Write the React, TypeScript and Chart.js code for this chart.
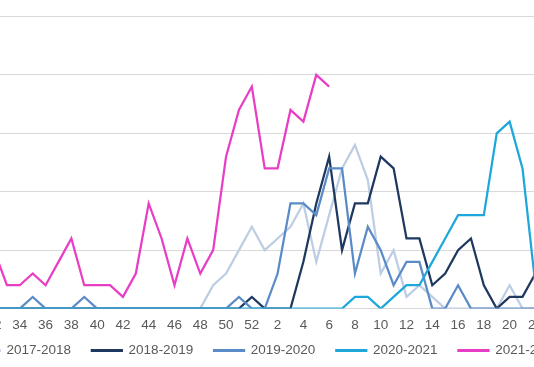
import { useEffect, useRef } from "react";
import { Chart, registerables } from "chart.js";

Chart.register(...registerables);

// Week categories (off-screen weeks at both ends carry no data)
const weekLabels = [
  "28", "29", "30", "31", "32", "33", "34", "35", "36", "37", "38", "39", "40", "41", "42", "43",
  "44", "45", "46", "47", "48", "49", "50", "51", "52", "1", "2", "3", "4", "5", "6", "7", "8",
  "9", "10", "11", "12", "13", "14", "15", "16", "17", "18", "19", "20", "21", "22", "23", "24",
  "25", "26",
];

const edge = [null, null, null, null];

// values for weeks 32..52, 1..22
const season1718 = [
  0, 0, 0, 0, 0, 0, 0, 0, 0, 0, 0, 0, 0, 0, 0, 0, 0, 2, 3, 5, 7,
  5, 6, 7, 9, 4, 8, 12, 14, 11, 3, 5, 1, 2, 1, 0, 0, 0, 0, 0, 2, 0, 0,
];
const season1819 = [
  0, 0, 0, 0, 0, 0, 0, 0, 0, 0, 0, 0, 0, 0, 0, 0, 0, 0, 0, 0, 1,
  0, 0, 0, 4, 9, 13, 5, 9, 9, 13, 12, 6, 6, 2, 3, 5, 6, 2, 0, 1, 1, 3,
];
const season1920 = [
  0, 0, 0, 1, 0, 0, 0, 1, 0, 0, 0, 0, 0, 0, 0, 0, 0, 0, 0, 1, 0,
  0, 3, 9, 9, 8, 12, 12, 3, 7, 5, 2, 4, 4, 0, 0, 2, 0, 0, 0, 0, 0, 0,
];
const season2021 = [
  0, 0, 0, 0, 0, 0, 0, 0, 0, 0, 0, 0, 0, 0, 0, 0, 0, 0, 0, 0, 0,
  0, 0, 0, 0, 0, 0, 0, 1, 1, 0, 1, 2, 2, 4, 6, 8, 8, 8, 15, 16, 12, 2,
];
const season2122 = [
  5, 2, 2, 3, 2, 4, 6, 2, 2, 2, 1, 3, 9, 6, 2, 6, 3, 5, 13, 17, 19,
  12, 12, 17, 16, 20, 19, null, null, null, null, null, null, null, null, null, null, null,
  null, null, null, null, null,
];

const seasonNames = ["2017-2018", "2018-2019", "2019-2020", "2020-2021", "2021-2022"];
const seasonColors = ["#bdcde3", "#1f3860", "#5b8bc6", "#1ea7db", "#e83ec6"];
const seasonValues = [season1718, season1819, season1920, season2021, season2122];

const yMax = 30;
const yStep = 5;

const FONT = "'Liberation Sans', Arial, sans-serif";
const LEGEND_GAP = 14.25; // distance from plot bottom to legend box top

const legendShift = {
  id: "legendShift",
  afterLayout(chart: any) {
    const lg = chart.legend;
    if (!lg) return;
    const dy = lg.top - chart.chartArea.bottom - LEGEND_GAP;
    lg.top -= dy;
    lg.bottom -= dy;
  },
};

export default function App() {
  const ref = useRef<HTMLCanvasElement>(null);

  useEffect(() => {
    if (!ref.current) return;
    const chart = new Chart(ref.current, {
      type: "line",
      data: {
        labels: weekLabels,
        datasets: seasonValues.map((vals, i) => ({
          label: seasonNames[i],
          data: [...edge, ...vals, ...edge],
          borderColor: seasonColors[i],
          backgroundColor: seasonColors[i],
          borderWidth: 2.25,
          pointRadius: 0,
          pointHoverRadius: 0,
          tension: 0,
          spanGaps: false,
          order: seasonValues.length - i,
        })),
      },
      plugins: [legendShift],
      options: {
        animation: false,
        responsive: false,
        maintainAspectRatio: false,
        devicePixelRatio: 1,
        layout: { padding: { left: 20.46, right: 20.04, top: 10, bottom: 0 } },
        scales: {
          x: {
            type: "category",
            offset: false,
            grid: { display: false, drawTicks: false },
            border: { display: false },
            ticks: {
              autoSkip: false,
              maxRotation: 0,
              minRotation: 0,
              padding: 8.6,
              color: "#595959",
              font: { family: FONT, size: 13.5 },
              callback: function (this: any, value: any) {
                const l = this.getLabelForValue(value);
                return Number(l) % 2 === 0 ? l : "";
              },
            },
            afterFit: (scale: any) => {
              scale.height = 21;
            },
          },
          y: {
            min: 0,
            max: yMax,
            grid: { color: "#d9d9d9", lineWidth: 1, drawTicks: false },
            border: { display: false },
            ticks: { display: false, stepSize: yStep },
          },
        },
        plugins: {
          legend: {
            position: "bottom",
            labels: {
              boxWidth: 30,
              boxHeight: 0.75,
              padding: 20.9,
              color: "#595959",
              font: { family: FONT, size: 13.5 },
              sort: (a: any, b: any) => a.datasetIndex - b.datasetIndex,
            },
          },
          tooltip: { enabled: false },
        },
      },
    });
    return () => chart.destroy();
  }, []);

  return (
    <div
      style={{
        position: "fixed",
        left: 0,
        top: 0,
        width: 534,
        height: 367,
        overflow: "hidden",
        background: "#fff",
      }}
    >
      <div style={{ position: "absolute", left: -78, top: -52, width: 685, height: 426 }}>
        <canvas
          ref={ref}
          width={685}
          height={426}
          style={{ width: 685, height: 426, display: "block" }}
        />
      </div>
    </div>
  );
}
